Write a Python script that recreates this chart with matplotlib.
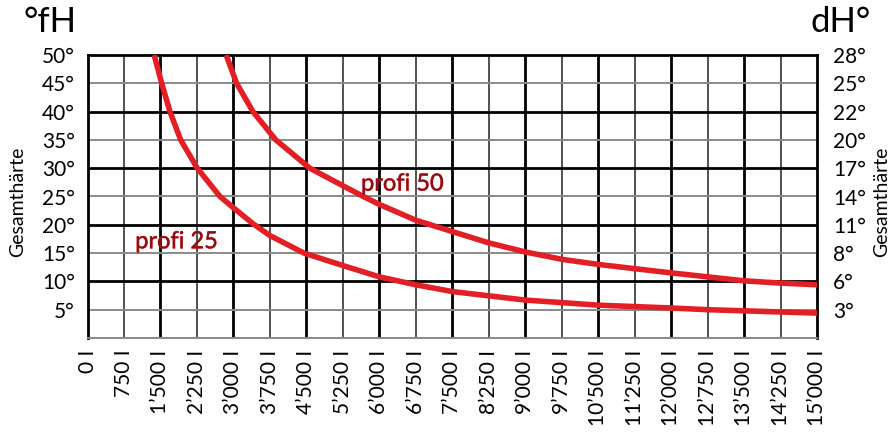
import matplotlib
matplotlib.use("Agg")
import matplotlib.pyplot as plt
import matplotlib.patheffects as pe

plt.rcParams['font.family'] = ['Lato', 'DejaVu Sans']

# capacity in litres vs. total hardness (°fH)
p25_x = [1370, 1525, 1695, 1915, 2256, 2723, 3000, 3400, 3750, 4450, 5250, 6000, 6750, 7500, 9000, 10500, 12000, 12750, 13500, 15000]
p25_y = [50, 45, 40, 35, 30, 25, 23.0, 20.2, 18.1, 15, 12.8, 10.8, 9.4, 8.2, 6.7, 5.8, 5.3, 5.0, 4.8, 4.4]
p50_x = [2850, 3065, 3400, 3870, 4570, 5250, 5670, 6000, 6750, 7500, 8250, 9000, 9750, 10500, 12000, 13500, 14250, 15000]
p50_y = [50, 45, 40, 35, 30, 26.9, 25.0, 23.6, 20.8, 18.8, 16.8, 15.2, 13.9, 13.0, 11.5, 10.1, 9.7, 9.4]

x_ticks = list(range(0, 15001, 750))
x_labels = [("%d" % v if v < 1000 else "%d\u2019%03d" % (v // 1000, v % 1000)) + " I" for v in x_ticks]
fh_ticks = [5, 10, 15, 20, 25, 30, 35, 40, 45, 50]
fh_labels = [str(v) + "°" for v in fh_ticks]
dh_labels = ["3°", "6°", "8°", "11°", "14°", "17°", "20°", "22°", "25°", "28°"]

red = '#e31e24'

fig = plt.figure(figsize=(8.92, 4.36), dpi=100)
ax = fig.add_axes([87.5/892, 1-338/436, (817.3-87.5)/892, (338-55)/436])
ax.set_xlim(0, 15000)
ax.set_ylim(0, 50)

# grid: thick black every 1500 l / 10°, thinner in between
for v in x_ticks[1:-1]:
    if v % 1500 == 0:
        ax.axvline(v, color='black', lw=2.0, zorder=1)
    else:
        ax.axvline(v, color='#222222', lw=1.1, zorder=1)
for v in range(5, 50, 5):
    if v % 10 == 0:
        ax.axhline(v, color='black', lw=2.0, zorder=1)
    else:
        ax.axhline(v, color='#8a8a8a', lw=1.4, zorder=1)

for s in ['left', 'top', 'right']:
    ax.spines[s].set_linewidth(2.0)
ax.spines['bottom'].set_color('#8a8a8a')
ax.spines['bottom'].set_linewidth(1.4)

for xs, ys in [(p25_x, p25_y), (p50_x, p50_y)]:
    ax.plot(xs, ys, color=red, lw=4, solid_capstyle='butt', solid_joinstyle='round', zorder=3)

lbl_fx = [pe.Stroke(linewidth=0.4, foreground=red), pe.Normal()]
ax.text(1829, 17.0, "profi 25", color='#8a1016', fontsize=17, ha='center', va='center',
        path_effects=lbl_fx, zorder=4)
ax.text(6472, 27.2, "profi 50", color='#8a1016', fontsize=17, ha='center', va='center',
        path_effects=lbl_fx, zorder=4)

ax.set_xticks(x_ticks)
ax.set_xticklabels(x_labels, rotation=90, fontsize=15)
ax.set_yticks(fh_ticks)
ax.set_yticklabels(fh_labels, fontsize=15)
ax.tick_params(axis='both', length=0)
ax.tick_params(axis='x', pad=8.5)
ax.tick_params(axis='y', pad=9)

ax2 = ax.twinx()
ax2.set_ylim(0, 50)
ax2.set_yticks(fh_ticks)
ax2.set_yticklabels(dh_labels, fontsize=15)
ax2.tick_params(axis='y', length=0, pad=11.5)
for s in ax2.spines.values():
    s.set_visible(False)

fig.text(50/892, 1-22/436, "°fH", fontsize=25, ha='center', va='center')
fig.text(841/892, 1-22/436, "dH°", fontsize=25, ha='center', va='center')
fig.text(18/892, 1-202/436, "Gesamthärte", fontsize=14, rotation=90, ha='center', va='center')
fig.text(882/892, 1-202/436, "Gesamthärte", fontsize=14, rotation=90, ha='center', va='center')

fig.savefig("out.png", dpi=100)
